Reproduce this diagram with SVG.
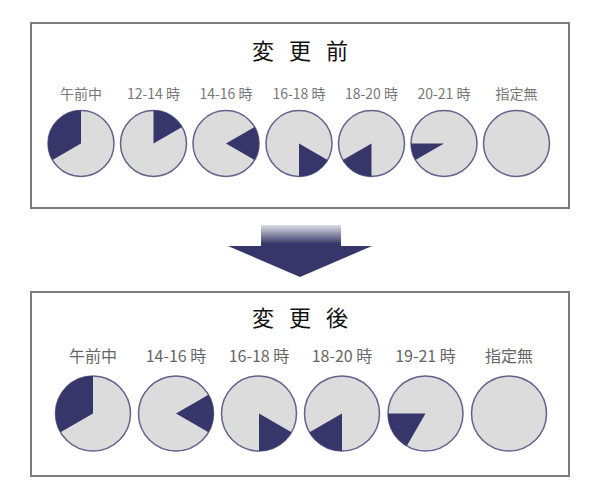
<svg xmlns="http://www.w3.org/2000/svg" width="600" height="500" viewBox="0 0 600 500">
<defs>
<linearGradient id="fade" x1="0" y1="225" x2="0" y2="244" gradientUnits="userSpaceOnUse">
<stop offset="0" stop-color="#dedee8"/>
<stop offset="1" stop-color="#36366a"/>
</linearGradient>
<style>
.box{fill:#ffffff;stroke:#7c7c7c;stroke-width:2}
.pie{fill:#dcdcdc;stroke:#62628c;stroke-width:1.5}
.w{fill:#36366a}
.title{font-family:"Noto Sans CJK JP","Noto Sans",sans-serif;font-size:22px;fill:#111;text-anchor:middle;word-spacing:10px}
.lt{font-family:"Noto Sans CJK JP","Noto Sans",sans-serif;font-size:14px;fill:#777;text-anchor:middle}
.lb{font-family:"Noto Sans CJK JP","Noto Sans",sans-serif;font-size:16px;fill:#666;text-anchor:middle}
</style>
</defs>
<rect width="600" height="500" fill="#ffffff"/>

<g id="before">
<rect class="box" x="31" y="23" width="538" height="185"/>
<text class="title" x="300" y="58.5">変 更 前</text>
<g id="b1"><text class="lt" x="81" y="98.5">午前中</text><circle class="pie" cx="81" cy="143.5" r="33"/><path class="w" d="M81,143.5 L52.42,160 A33,33 0 0 1 81,110.5 Z"/></g>
<g id="b2"><text class="lt" x="153.5" y="98.5">12-14 時</text><circle class="pie" cx="153.5" cy="143.5" r="33"/><path class="w" d="M153.5,143.5 L153.5,110.5 A33,33 0 0 1 182.08,127 Z"/></g>
<g id="b3"><text class="lt" x="226" y="98.5">14-16 時</text><circle class="pie" cx="226" cy="143.5" r="33"/><path class="w" d="M226,143.5 L254.58,127 A33,33 0 0 1 254.58,160 Z"/></g>
<g id="b4"><text class="lt" x="299" y="98.5">16-18 時</text><circle class="pie" cx="299" cy="143.5" r="33"/><path class="w" d="M299,143.5 L327.58,160 A33,33 0 0 1 299,176.5 Z"/></g>
<g id="b5"><text class="lt" x="371.5" y="98.5">18-20 時</text><circle class="pie" cx="371.5" cy="143.5" r="33"/><path class="w" d="M371.5,143.5 L371.5,176.5 A33,33 0 0 1 342.92,160 Z"/></g>
<g id="b6"><text class="lt" x="444" y="98.5">20-21 時</text><circle class="pie" cx="444" cy="143.5" r="33"/><path class="w" d="M444,143.5 L415.42,160 A33,33 0 0 1 411,143.5 Z"/></g>
<g id="b7"><text class="lt" x="516.5" y="98.5">指定無</text><circle class="pie" cx="516.5" cy="143.5" r="33"/></g>
</g>

<g id="connectors">
<rect x="261" y="225" width="80" height="22" fill="url(#fade)"/>
<polygon points="228,246 372,246 300,277" fill="#36366a"/>
</g>

<g id="after">
<rect class="box" x="31" y="292" width="538" height="184"/>
<text class="title" x="300" y="325.5">変 更 後</text>
<g id="a1"><text class="lb" x="93" y="361.5">午前中</text><circle class="pie" cx="93" cy="413.5" r="37.5"/><path class="w" d="M93,413.5 L60.52,432.25 A37.5,37.5 0 0 1 93,376 Z"/></g>
<g id="a2"><text class="lb" x="176" y="361.5">14-16 時</text><circle class="pie" cx="176" cy="413.5" r="37.5"/><path class="w" d="M176,413.5 L208.48,394.75 A37.5,37.5 0 0 1 208.48,432.25 Z"/></g>
<g id="a3"><text class="lb" x="259" y="361.5">16-18 時</text><circle class="pie" cx="259" cy="413.5" r="37.5"/><path class="w" d="M259,413.5 L291.48,432.25 A37.5,37.5 0 0 1 259,451 Z"/></g>
<g id="a4"><text class="lb" x="342" y="361.5">18-20 時</text><circle class="pie" cx="342" cy="413.5" r="37.5"/><path class="w" d="M342,413.5 L342,451 A37.5,37.5 0 0 1 309.52,432.25 Z"/></g>
<g id="a5"><text class="lb" x="425.5" y="361.5">19-21 時</text><circle class="pie" cx="425.5" cy="413.5" r="37.5"/><path class="w" d="M425.5,413.5 L406.75,445.98 A37.5,37.5 0 0 1 388,413.5 Z"/></g>
<g id="a6"><text class="lb" x="509" y="361.5">指定無</text><circle class="pie" cx="509" cy="413.5" r="37.5"/></g>
</g>
</svg>
